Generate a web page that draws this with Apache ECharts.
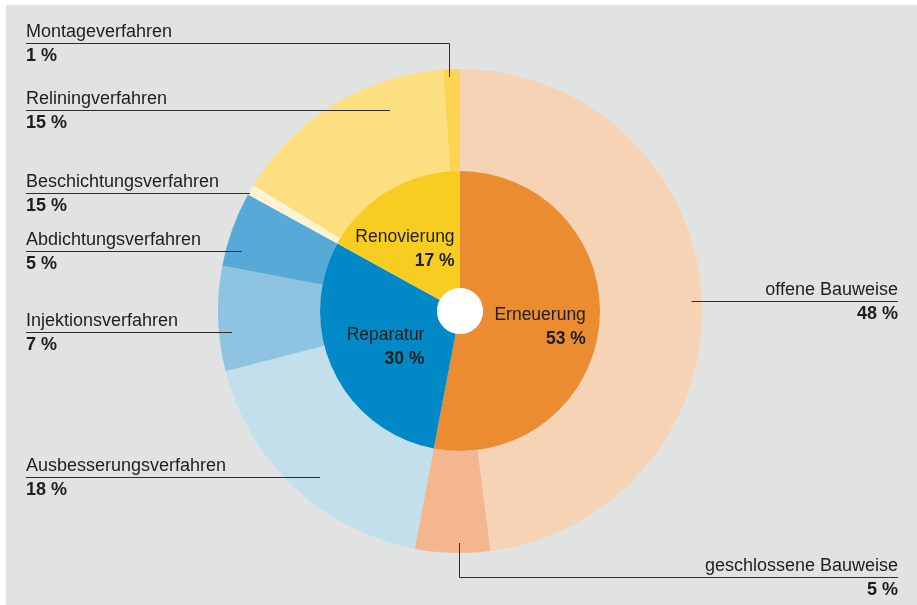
<!DOCTYPE html>
<html>
<head>
<meta charset="utf-8">
<script src="https://cdn.jsdelivr.net/npm/echarts@6/dist/echarts.min.js"></script>
<style>
html,body{margin:0;padding:0;background:#fff;}
#chart{width:917px;height:605px;}
</style>
</head>
<body>
<div id="chart"></div>
<script>
// ---- data ----
const innerNames = ['Erneuerung', 'Reparatur', 'Renovierung'];
const innerValues = [53, 30, 17];
const innerLabels = ['53 %', '30 %', '17 %'];

const outerNames = ['offene Bauweise', 'geschlossene Bauweise', 'Ausbesserungsverfahren',
  'Injektionsverfahren', 'Abdichtungsverfahren', 'Beschichtungsverfahren',
  'Reliningverfahren', 'Montageverfahren'];
const outerValues = [48, 5, 18, 7, 5, 0.7, 15.2, 1.1];
const outerLabels = ['48 %', '5 %', '18 %', '7 %', '5 %', '15 %', '15 %', '1 %'];

// ---- styles / layout ----
const innerColors = ['#ea8c2f', '#0089c6', '#f7cd22'];
const outerColors = ['#f6d3b5', '#f3b68e', '#c3dfec', '#8ec3e1', '#57aad7', '#fdf3d0', '#fcdf80', '#fcd44f'];
const labelSpots = [
  { side: 'right', y: 301.5, endX: 691.5 },
  { side: 'right', y: 577.5, endX: 459.5, endY: 543 },
  { side: 'left', y: 477.5, endX: 320 },
  { side: 'left', y: 332.5, endX: 232 },
  { side: 'left', y: 251.5, endX: 242 },
  { side: 'left', y: 193.5, endX: 250 },
  { side: 'left', y: 110.5, endX: 390 },
  { side: 'left', y: 43.5, endX: 449.5, endY: 77 }
];
const innerShift = [[-4, 8], [2, 0], [-12, 11]];
const FONT = '"Liberation Sans", Arial, Helvetica, sans-serif';
const CENTER = [460, 311];
const OUTER_R = [140, 242];

const chart = echarts.init(document.getElementById('chart'), null, { renderer: 'canvas' });

const outerData = outerNames.map((n, i) => ({ name: n, value: outerValues[i], itemStyle: { color: outerColors[i] } }));

const option = {
  backgroundColor: '#ffffff',
  animation: false,
  graphic: [{
    type: 'rect', left: 6, top: 5, z: -10,
    shape: { width: 911, height: 600 },
    style: { fill: '#e1e2e2' }, silent: true
  }],
  series: [
    {
      type: 'pie', z: 2, center: CENTER, radius: OUTER_R, startAngle: 90, clockwise: true,
      avoidLabelOverlap: false, emphasis: { disabled: true }, silent: true,
      itemStyle: { borderWidth: 0 },
      data: outerData,
      label: { show: false }, labelLine: { show: false }
    },
    {
      type: 'pie', z: 2, center: CENTER, radius: [23, 140], startAngle: 90, clockwise: true,
      avoidLabelOverlap: false, emphasis: { disabled: true }, silent: true,
      itemStyle: { borderWidth: 0 },
      data: innerNames.map((n, i) => ({ name: n, value: innerValues[i], itemStyle: { color: innerColors[i] } })),
      label: {
        show: true, position: 'inside',
        formatter: p => '{n|' + p.name + '}\n{p|' + innerLabels[p.dataIndex] + '}',
        rich: {
          n: { fontFamily: FONT, fontSize: 17.5, lineHeight: 24, color: '#1e1e1e', align: 'right' },
          p: { fontFamily: FONT, fontSize: 17.5, lineHeight: 24, color: '#1e1e1e', fontWeight: 'bold', align: 'right' }
        }
      },
      labelLayout: function (params) {
        const d = innerShift[params.dataIndex];
        return { dx: d[0], dy: d[1] };
      },
      labelLine: { show: false }
    },
    {
      type: 'pie', z: 3, center: CENTER, radius: [0, 23], silent: true, emphasis: { disabled: true },
      label: { show: false }, labelLine: { show: false },
      data: [{ name: 'hole', value: 1, itemStyle: { color: '#ffffff' } }]
    },
    {
      // transparent overlay carrying the outer labels and leader lines above the slices
      type: 'pie', z: 10, center: CENTER, radius: OUTER_R, startAngle: 90, clockwise: true,
      avoidLabelOverlap: false, emphasis: { disabled: true }, silent: true,
      itemStyle: { color: 'rgba(0,0,0,0)', borderWidth: 0 },
      data: outerNames.map((n, i) => ({ name: n, value: outerValues[i] })),
      label: {
        show: true, position: 'outside', fontFamily: FONT, color: '#1e1e1e',
        formatter: p => {
          const s = labelSpots[p.dataIndex].side === 'left' ? 'l' : 'r';
          return '{n' + s + '|' + p.name + '}\n{p' + s + '|' + outerLabels[p.dataIndex] + '}';
        },
        rich: {
          nl: { fontFamily: FONT, fontSize: 18, lineHeight: 22, color: '#1e1e1e', align: 'left' },
          pl: { fontFamily: FONT, fontSize: 18, lineHeight: 26, color: '#1e1e1e', fontWeight: 'bold', align: 'left' },
          nr: { fontFamily: FONT, fontSize: 18, lineHeight: 22, color: '#1e1e1e', align: 'right' },
          pr: { fontFamily: FONT, fontSize: 18, lineHeight: 26, color: '#1e1e1e', fontWeight: 'bold', align: 'right' }
        }
      },
      labelLine: { show: true, smooth: false, lineStyle: { color: '#2e2e2e', width: 1 } },
      labelLayout: function (params) {
        const s = labelSpots[params.dataIndex];
        const x = s.side === 'left' ? 26 : 898;
        const ey = s.endY !== undefined ? s.endY : s.y;
        return {
          x: x, y: s.y + 1.5, align: s.side, verticalAlign: 'middle',
          labelLinePoints: [[s.endX, ey], [s.endX, s.y], [x, s.y]]
        };
      }
    }
  ]
};
chart.setOption(option);
</script>
</body>
</html>
